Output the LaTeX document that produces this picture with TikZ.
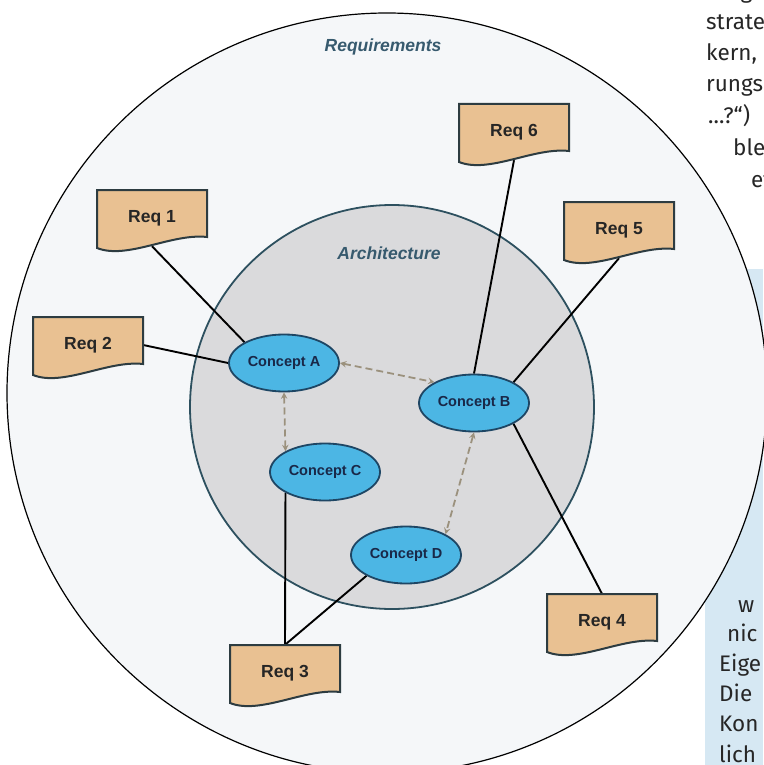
\documentclass[tikz,border=0pt]{standalone}
\usepackage{fontspec}
\setmainfont{Liberation Sans}
\newfontfamily\pagefont{Fira Sans}
\usetikzlibrary{arrows,shapes.geometric}

\definecolor{reqfill}{RGB}{233,193,146}
\definecolor{reqline}{RGB}{45,60,65}
\definecolor{conceptfill}{RGB}{76,182,228}
\definecolor{conceptline}{RGB}{30,70,100}
\definecolor{concepttext}{RGB}{25,40,72}
\definecolor{archfill}{RGB}{218,218,220}
\definecolor{archline}{RGB}{45,80,95}
\definecolor{outerfill}{RGB}{245,247,249}
\definecolor{sidebox}{RGB}{214,232,243}
\definecolor{dashcol}{RGB}{155,145,125}
\definecolor{labelcol}{RGB}{55,90,110}

\pgfdeclarelayer{back}
\pgfdeclarelayer{lines}
\pgfsetlayers{back,lines,main}

\begin{document}
\begin{tikzpicture}[x=1pt, y=-1pt,
  concept/.style={ellipse, draw=conceptline, fill=conceptfill, line width=1.8pt, minimum width=110pt, minimum height=57pt, inner sep=0pt, font=\fontsize{14.5}{16}\selectfont\bfseries, text=concepttext},
  reqbox/.style={rectangle, minimum width=110pt, minimum height=56pt, inner sep=0pt, font=\fontsize{17.5}{20}\selectfont\bfseries, text=black!85},
  reqshape/.style={draw=reqline, fill=reqfill, line width=2pt},
  link/.style={line width=1.9pt, black},
  dep/.style={<->, >=stealth, draw=dashcol, line width=1.8pt, dash pattern=on 7pt off 4pt},
  title/.style={font=\fontsize{17.5}{20}\selectfont\itshape\bfseries, text=labelcol},
  page/.style={anchor=mid west, inner sep=0pt, font=\pagefont\fontsize{22.5}{26}\selectfont, text=black!85}
]
\useasboundingbox (0,0) rectangle (763,765);

\begin{pgfonlayer}{back}
\fill[sidebox] (705,269) rectangle (763,765);
\filldraw[fill=outerfill, draw=black, line width=1.2pt] (387,393) circle (380pt);
\filldraw[fill=archfill, draw=archline, line width=1.8pt] (392,407) circle (202pt);
\node[title] (reqtitle) at (383,47) {Requirements};
\node[title] (archtitle) at (389,253) {Architecture};
\foreach \t/\x/\y [count=\i] in {tunge/706/-4, strate/706/27, {kern,}/706/58, rungs/706/89, {...?“)}/708/121, ble/733/153, et/751/185, w/738/610, nic/727/639, Eige/719/669, Die/719/699, Kon/719/729, lich/719/760}
  \node[page] (side\i) at (\x,\y) {\t};
\end{pgfonlayer}

\node[concept] (conA) at (284,363) {Concept A};
\node[concept] (conB) at (474,403) {Concept B};
\node[concept] (conC) at (325,472) {Concept C};
\node[concept] (conD) at (406,555) {Concept D};

\foreach \n/\x/\y in {1/152/220, 2/88/347, 3/285/675, 4/602/624, 5/619/232, 6/514/134} {
  \filldraw[reqshape] (\x-55,\y-30) -- ++(110,0) -- ++(0,47) .. controls +(-35,-4) and +(30,12) .. (\x-55,\y+28) -- cycle;
  \node[reqbox] (req\n) at (\x,\y-2) {Req \n};
}

\begin{pgfonlayer}{lines}
\draw[link] (req1.south) -- (conA.north west);
\draw[link] (req2.east) -- (conA.west);
\draw[link] (req6.south) -- (conB.north);
\draw[link] (req5.south) -- (conB.north east);
\draw[link] (conB.south east) -- (req4.north);
\draw[link] (conC.south west) -- (req3.north);
\draw[link] (conD.south west) -- (req3.north);
\end{pgfonlayer}

\draw[dep] (conA.east) -- (conB.north west);
\draw[dep] (conA.south) -- (conC.north west);
\draw[dep] (conB.south) -- (conD.north east);
\end{tikzpicture}
\end{document}
